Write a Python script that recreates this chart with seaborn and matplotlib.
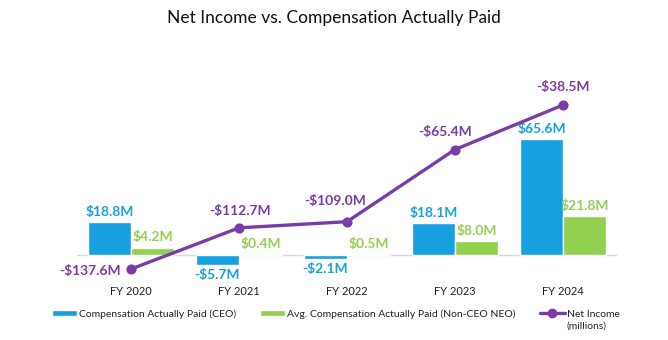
import matplotlib
matplotlib.use("Agg")
import matplotlib.pyplot as plt
from matplotlib.patches import Patch
from matplotlib.lines import Line2D
import seaborn as sns
import pandas as pd

years = ["FY 2020", "FY 2021", "FY 2022", "FY 2023", "FY 2024"]
ceo_cap = [18.8, -5.7, -2.1, 18.1, 65.6]
neo_cap = [4.2, 0.4, 0.5, 8.0, 21.8]
net_income = [-137.6, -112.7, -109.0, -65.4, -38.5]
series_names = ["Compensation Actually Paid (CEO)",
                "Avg. Compensation Actually Paid (Non-CEO NEO)"]
line_name = "Net Income"
line_sub = "(millions)"
title = "Net Income vs. Compensation Actually Paid"

BLUE = "#16A0E0"
GREEN = "#92D050"
PURPLE = "#7A3CA6"

sns.set_theme(style="white")
plt.rcParams["font.family"] = ["Lato", "DejaVu Sans"]

df = pd.DataFrame({
    "year": years * 2,
    "value": ceo_cap + neo_cap,
    "series": [series_names[0]] * len(years) + [series_names[1]] * len(years),
})

fig = plt.figure(figsize=(6.68, 3.40), dpi=100)
ax = fig.add_axes([77 / 668, 65 / 340, 540 / 668, 205 / 340])

sns.barplot(data=df, x="year", y="value", hue="series", palette=[BLUE, GREEN],
            width=0.8, saturation=1, ax=ax, legend=False, errorbar=None)

def fmt(v):
    return f"-${abs(v):.1f}M" if v < 0 else f"${v:.1f}M"

for cont, vals, col in zip(ax.containers, [ceo_cap, neo_cap], [BLUE, GREEN]):
    ax.bar_label(cont, labels=[fmt(v) for v in vals], padding=3, color=col,
                 fontsize=10, fontweight="bold")

ax.axhline(0, color="#d9d9d9", lw=1, zorder=0)
ax.set_ylim(-11.3, 104.5)
ax.set_xlim(-0.5, len(years) - 0.5)
ax.set_xticks(range(len(years)))
ax.set_xticklabels(years)
ax.tick_params(axis="x", length=0, pad=8, labelsize=8, colors="#222222")
ax.set_yticks([])
ax.set_xlabel("")
ax.set_ylabel("")
for s in ax.spines.values():
    s.set_visible(False)

ax2 = ax.twinx()
sns.pointplot(x=years, y=net_income, ax=ax2, color=PURPLE, markers="o",
              linestyles="-", linewidth=2.4, markersize=5.5, errorbar=None)
for art in ax2.lines:
    art.set_clip_on(False)
ax2.set_ylim(-141.2, -17.34)
ax.set_xlim(-0.5, len(years) - 0.5)
ax2.set_yticks([])
ax2.set_ylabel("")
ax2.set_xlabel("")
for s in ax2.spines.values():
    s.set_visible(False)

offsets = [(-10, -2, "right"), (1, 17, "center"), (-12, 21, "center"),
           (-10, 18, "center"), (0, 18, "center")]
for i, (v, (dx, dy, ha)) in enumerate(zip(net_income, offsets)):
    ax2.annotate(fmt(v), (i, v), xytext=(dx, dy), textcoords="offset pixels",
                 ha=ha, va="center", color=PURPLE, fontsize=10, fontweight="bold")

fig.text(0.5, 1 - 18 / 340, title, ha="center", va="center", fontsize=12.5,
         color="#111111")

handles = [Patch(facecolor=BLUE), Patch(facecolor=GREEN),
           Line2D([0], [0], color=PURPLE, lw=2.4, marker="o", markersize=6)]
leg = fig.legend(handles, series_names + [line_name], loc="center left",
                 bbox_to_anchor=(52 / 668, 1 - 314 / 340), ncol=3, frameon=False,
                 fontsize=7.5, handlelength=2.4, handleheight=0.55,
                 handletextpad=0.2, columnspacing=2.3, borderpad=0,
                 borderaxespad=0)
for t in leg.get_texts():
    t.set_color("#222222")

fig.canvas.draw()
bb = leg.get_texts()[-1].get_window_extent()
inv = fig.transFigure.inverted()
x0, y0 = inv.transform((bb.x0, bb.y0))
fig.text(x0, y0 - 3 / 340, line_sub, ha="left", va="top", fontsize=7.5,
         color="#222222")

fig.savefig("out.png", dpi=100)
